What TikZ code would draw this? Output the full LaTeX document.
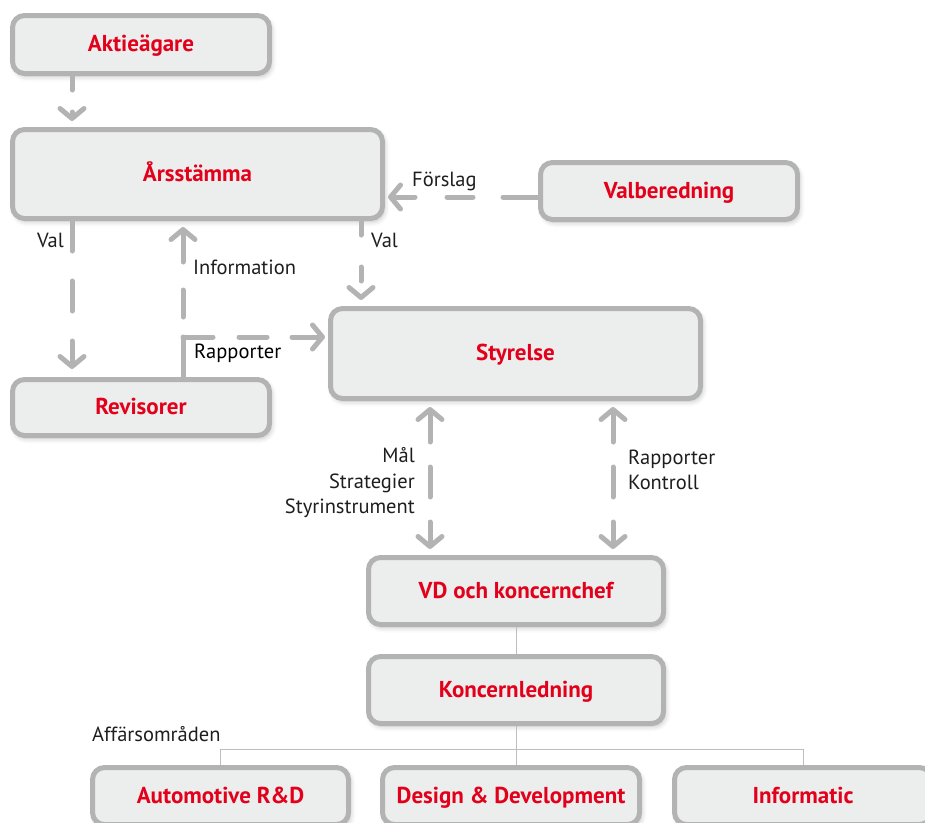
\documentclass[tikz,border=0pt]{standalone}
\usepackage{fontspec}
\setmainfont{PT Sans}
\usetikzlibrary{arrows.meta,shadows.blur}
\definecolor{boxgray}{HTML}{B3B3B3}
\definecolor{boxfill}{HTML}{ECEDED}
\definecolor{tred}{HTML}{E2001A}
\definecolor{tgray}{HTML}{1E1E1E}
\begin{document}
\begin{tikzpicture}[x=1pt,y=-1pt,
  box/.style={draw=boxgray, line width=5pt, fill=boxfill, rounded corners=12pt,
    font=\fontsize{23}{27}\selectfont\bfseries, text=tred, inner sep=0pt,
    text height=17pt, text depth=3pt,
    blur shadow={shadow xshift=2pt, shadow yshift=-3pt, shadow blur radius=5pt, shadow opacity=25}},
  arr/.style={draw=boxgray, line width=5pt, line cap=round,
    -{Straight Barb[length=10pt,width=24pt,round]}},
  dblarr/.style={draw=boxgray, line width=5pt, line cap=round,
    {Straight Barb[length=10pt,width=24pt,round]}-{Straight Barb[length=10pt,width=24pt,round]}},
  lbl/.style={font=\fontsize{20.5}{25.5}\selectfont, text=tgray, inner sep=0pt},
  tree/.style={draw=boxgray!85, line width=1pt}]
\useasboundingbox (0,0) rectangle (925,822);
\clip (0,0) rectangle (925,822);

% boxes
\node[box, minimum width=257pt, minimum height=58pt] (akt) at (141,44.5) {Aktieägare};
\node[box, minimum width=370pt, minimum height=89pt] (ars) at (197.5,174) {Årsstämma};
\node[box, minimum width=257pt, minimum height=57pt] (val) at (669,191) {Valberedning};
\node[box, minimum width=370pt, minimum height=90pt] (sty) at (515.5,353.5) {Styrelse};
\node[box, minimum width=257pt, minimum height=56pt] (rev) at (141,407.5) {Revisorer};
\node[box, minimum width=295pt, minimum height=67pt] (vd) at (516,591) {VD och koncernchef};
\node[box, minimum width=295pt, minimum height=67pt] (kl) at (516,690) {Koncernledning};
\node[box, minimum width=256pt, minimum height=57pt] (ard) at (220.5,796) {Automotive R\&D};
\node[box, minimum width=257pt, minimum height=57pt] (dd) at (511,796) {Design \& Development};
\node[box, minimum width=257pt, minimum height=57pt] (inf) at (803,796) {Informatic};

% helper coordinates
\coordinate (cx1) at (72,0);
\coordinate (cx2) at (361,0);
\coordinate (cx3) at (183,0);
\coordinate (jn) at (183,337);
\coordinate (fy) at (0,197);
\coordinate (cx4) at (430,0);
\coordinate (cx5) at (613,0);
\coordinate (ty) at (0,749);

% dashed arrows
\draw[arr, dash pattern=on 14pt off 22pt, shorten >=6pt] (akt.south -| cx1) -- (ars.north -| cx1);
\draw[arr, dash pattern=on 30pt off 30pt, shorten >=8pt] (ars.south -| cx1) -- (rev.north -| cx1);
\draw[arr, dash pattern=on 14pt off 32pt, shorten >=6pt] (ars.south -| cx2) -- (sty.north -| cx2);
\draw[arr, dash pattern=on 40pt off 20pt on 27pt off 28pt on 60pt, shorten >=6pt] (rev.north -| cx3) -- (ars.south -| cx3);
\draw[arr, dash pattern=on 30pt off 26pt on 28pt off 25pt on 60pt, shorten >=3pt] (jn) -- (sty.west |- jn);
\draw[arr, dash pattern=on 35pt off 30pt on 26pt off 32pt on 60pt, shorten >=3pt] (val.west |- fy) -- (ars.east |- fy);
\draw[dblarr, dash pattern=on 30pt off 25pt on 30pt off 25pt on 60pt, shorten >=6pt, shorten <=6pt] (sty.south -| cx4) -- (vd.north -| cx4);
\draw[dblarr, dash pattern=on 30pt off 25pt on 30pt off 25pt on 60pt, shorten >=6pt, shorten <=6pt] (sty.south -| cx5) -- (vd.north -| cx5);

% tree
\draw[tree] (vd.south) -- (kl.north);
\draw[tree] (kl.south) -- (kl.south |- dd.north);
\draw[tree] (ard.north) -- (ard.north |- ty) -- (inf.north |- ty) -- (inf.north);

% labels
\node[lbl, anchor=east] (lval1) at (64,240) {Val};
\node[lbl, anchor=west] (lval2) at (371,240) {Val};
\node[lbl, anchor=west] (linfo) at (193,267) {Information};
\node[lbl, anchor=west, text=black] (lrap) at (194,353) {Rapporter};
\node[lbl, anchor=west] (lfor) at (412,181) {Förslag};
\node[lbl, anchor=east, align=right] (lmal) at (415,483) {Mål\\Strategier\\Styrinstrument};
\node[lbl, anchor=west, align=left] (lrk) at (628,470) {Rapporter\\Kontroll};
\node[lbl, anchor=west] (laff) at (92,734) {Affärsområden};
\end{tikzpicture}
\end{document}
